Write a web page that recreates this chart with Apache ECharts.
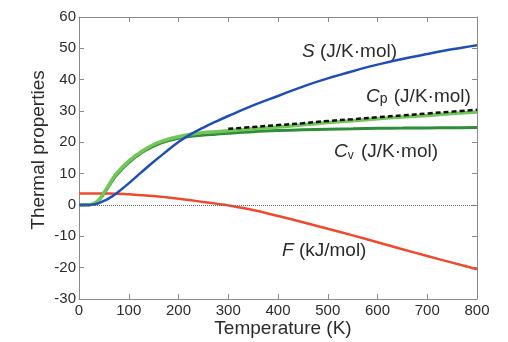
<!DOCTYPE html>
<html>
<head>
<meta charset="utf-8">
<script src="https://cdn.jsdelivr.net/npm/echarts@6/dist/echarts.min.js"></script>
<style>
html,body{margin:0;padding:0;background:#fff;}
#c{width:508px;height:342px;}
</style>
</head>
<body>
<div id="c"></div>
<script>
// Temperatures (K)
var temps = [0, 10, 20, 30, 40, 50, 60, 75, 100, 125, 150, 175, 200, 225, 250, 275, 300, 350, 400, 450, 500, 550, 600, 650, 700, 750, 800];
// Entropy S (J/K·mol)
var sVals = [0, 0, 0.02, 0.15, 0.6, 1.3, 2.1, 3.7, 6.9, 10.4, 13.8, 17.0, 20.1, 22.6, 24.7, 26.6, 28.4, 31.8, 34.8, 37.8, 40.4, 42.7, 44.8, 46.6, 48.2, 49.7, 51.0];
// Heat capacity Cp, calculated (J/K·mol)
var cpVals = [0, 0, 0.05, 0.5, 1.7, 3.9, 6.4, 10.0, 14.0, 17.0, 19.3, 20.8, 21.8, 22.6, 23.1, 23.4, 23.7, 24.3, 24.9, 25.6, 26.3, 26.9, 27.5, 28.1, 28.6, 29.2, 29.7];
// Heat capacity Cv (J/K·mol)
var cvVals = [0, 0, 0.05, 0.4, 1.5, 3.6, 6.0, 9.5, 13.5, 16.6, 18.8, 20.3, 21.3, 21.9, 22.3, 22.6, 22.9, 23.4, 23.75, 24.0, 24.2, 24.35, 24.5, 24.55, 24.6, 24.65, 24.7];
// Free energy F (kJ/mol)
var fVals = [3.7, 3.7, 3.7, 3.7, 3.7, 3.7, 3.68, 3.6, 3.4, 3.15, 2.85, 2.45, 2.0, 1.5, 0.97, 0.44, -0.12, -1.6, -3.5, -5.5, -7.6, -9.7, -11.9, -14.1, -16.3, -18.4, -20.5];
// Experimental Cp (dashed)
var expTemps = [300, 350, 400, 450, 500, 550, 600, 650, 700, 750, 800];
var cpExpVals = [24.3, 24.9, 25.5, 26.1, 26.8, 27.4, 28.0, 28.6, 29.2, 29.8, 30.4];
// Axis ticks
var xTicks = {min: 0, max: 800, step: 100};
var yTicks = {min: -30, max: 60, step: 10};

function pairs(xs, ys) { return xs.map(function (x, i) { return [x, ys[i]]; }); }

var FONT = '"Liberation Sans", Arial, Helvetica, sans-serif';
var AX = '#8a8a8a';
var TXT = '#2b2b2b';

var chart = echarts.init(document.getElementById('c'), null, {renderer: 'canvas'});

function baseX(pos, showLabel) {
  return {
    type: 'value', position: pos, min: xTicks.min, max: xTicks.max, interval: xTicks.step,
    axisLine: {show: true, onZero: false, lineStyle: {color: AX, width: 1}},
    axisTick: {show: true, inside: true, length: 5, lineStyle: {color: AX}},
    axisLabel: {show: showLabel, margin: 4, color: TXT, fontSize: 15, fontFamily: FONT},
    splitLine: {show: false}
  };
}
function baseY(pos, showLabel) {
  return {
    type: 'value', position: pos, min: yTicks.min, max: yTicks.max, interval: yTicks.step,
    axisLine: {show: true, onZero: false, lineStyle: {color: AX, width: 1}},
    axisTick: {show: true, inside: true, length: 5, lineStyle: {color: AX}},
    axisLabel: {show: showLabel, margin: 3, color: TXT, fontSize: 15, fontFamily: FONT},
    splitLine: {show: false}
  };
}

function lineSeries(name, data, color, width, extra) {
  var s = {
    name: name, type: 'line', data: data, xAxisIndex: 0, yAxisIndex: 0,
    smooth: 0.4, showSymbol: false, symbol: 'none',
    lineStyle: {color: color, width: width}, silent: true, animation: false
  };
  if (extra) for (var k in extra) s[k] = extra[k];
  return s;
}

var option = {
  animation: false,
  backgroundColor: '#ffffff',
  grid: {left: 79, right: 31, top: 17, bottom: 43, containLabel: false},
  xAxis: [baseX('bottom', true), baseX('top', false)],
  yAxis: [baseY('left', true), baseY('right', false)],
  series: [
    lineSeries('F', pairs(temps, fVals), '#ee4a2e', 2.5, {
      markLine: {
        silent: true, symbol: 'none', label: {show: false},
        lineStyle: {type: 'dotted', color: '#666', width: 1},
        data: [{yAxis: 0}]
      }
    }),
    lineSeries('Cv', pairs(temps, cvVals), '#2f8c38', 3),
    lineSeries('Cp', pairs(temps, cpVals), '#74c55a', 3.5),
    lineSeries('Cp exp', pairs(expTemps, cpExpVals), '#111111', 2.5, {
      lineStyle: {color: '#111111', width: 2.5, type: [5, 3]}
    }),
    lineSeries('S', pairs(temps, sVals), '#1f4fb6', 2.5)
  ],
  graphic: [
    {type: 'text', x: 302, y: 52, silent: true, style: {
      text: '{i|S} (J/K·mol)', textVerticalAlign: 'middle', font: '19px ' + FONT, fill: TXT,
      rich: {i: {fontStyle: 'italic', fontSize: 19, fontFamily: FONT, fill: TXT}}
    }},
    {type: 'text', x: 366, y: 97, silent: true, style: {
      text: '{i|C}{s|p} (J/K·mol)', textVerticalAlign: 'middle', font: '19px ' + FONT, fill: TXT,
      rich: {i: {fontStyle: 'italic', fontSize: 19, fontFamily: FONT, fill: TXT},
             s: {fontSize: 14, fontFamily: FONT, fill: TXT, padding: [4, 1, 0, 0]}}
    }},
    {type: 'text', x: 334, y: 152, silent: true, style: {
      text: '{i|C}{s|v} (J/K·mol)', textVerticalAlign: 'middle', font: '19px ' + FONT, fill: TXT,
      rich: {i: {fontStyle: 'italic', fontSize: 19, fontFamily: FONT, fill: TXT},
             s: {fontSize: 12, fontFamily: FONT, fill: TXT, padding: [8, 2, 0, 0]}}
    }},
    {type: 'text', x: 282, y: 251, silent: true, style: {
      text: '{i|F} (kJ/mol)', textVerticalAlign: 'middle', font: '19px ' + FONT, fill: TXT,
      rich: {i: {fontStyle: 'italic', fontSize: 19, fontFamily: FONT, fill: TXT}}
    }},
    {type: 'text', x: 283, y: 329, silent: true, style: {
      text: 'Temperature (K)', textAlign: 'center', textVerticalAlign: 'middle',
      font: '19px ' + FONT, fill: TXT
    }},
    {type: 'text', x: 39, y: 150, rotation: Math.PI / 2, silent: true, style: {
      text: 'Thermal properties', textAlign: 'center', textVerticalAlign: 'middle',
      font: '19px ' + FONT, fill: TXT
    }}
  ]
};
chart.setOption(option);
</script>
</body>
</html>
